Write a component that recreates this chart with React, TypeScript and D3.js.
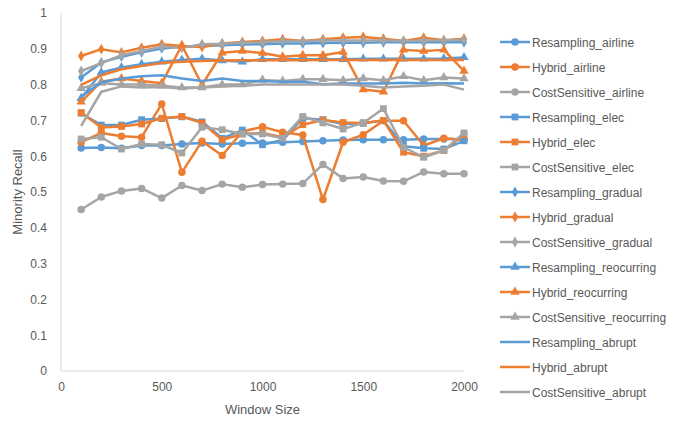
import React, { useEffect, useRef } from 'react';
import * as d3 from 'd3';

// window sizes on the x axis
const windowSizes = [100, 200, 300, 400, 500, 600, 700, 800, 900, 1000, 1100, 1200, 1300, 1400, 1500, 1600, 1700, 1800, 1900, 2000];

const resamplingAirline = [0.623, 0.624, 0.622, 0.630, 0.630, 0.634, 0.637, 0.634, 0.636, 0.637, 0.639, 0.641, 0.643, 0.645, 0.646, 0.646, 0.646, 0.648, 0.648, 0.647];
const hybridAirline = [0.639, 0.665, 0.656, 0.653, 0.746, 0.555, 0.642, 0.602, 0.669, 0.682, 0.667, 0.659, 0.479, 0.639, 0.660, 0.699, 0.699, 0.630, 0.650, 0.645];
const costAirline = [0.451, 0.486, 0.503, 0.510, 0.483, 0.518, 0.504, 0.522, 0.513, 0.521, 0.522, 0.524, 0.577, 0.538, 0.542, 0.531, 0.530, 0.556, 0.551, 0.551];
const resamplingElec = [0.720, 0.687, 0.687, 0.702, 0.705, 0.710, 0.696, 0.650, 0.673, 0.632, 0.645, 0.706, 0.702, 0.690, 0.692, 0.700, 0.628, 0.622, 0.620, 0.643];
const hybridElec = [0.722, 0.680, 0.683, 0.690, 0.706, 0.711, 0.693, 0.646, 0.662, 0.665, 0.653, 0.688, 0.701, 0.694, 0.693, 0.700, 0.611, 0.600, 0.616, 0.660];
const costElec = [0.648, 0.653, 0.620, 0.634, 0.632, 0.609, 0.681, 0.674, 0.662, 0.662, 0.650, 0.711, 0.693, 0.676, 0.693, 0.733, 0.625, 0.597, 0.616, 0.665];
const resamplingGradual = [0.820, 0.862, 0.878, 0.890, 0.901, 0.906, 0.908, 0.910, 0.912, 0.913, 0.915, 0.915, 0.916, 0.917, 0.917, 0.918, 0.918, 0.918, 0.918, 0.918];
const hybridGradual = [0.880, 0.899, 0.890, 0.903, 0.913, 0.908, 0.905, 0.915, 0.919, 0.922, 0.927, 0.922, 0.927, 0.931, 0.933, 0.928, 0.922, 0.931, 0.924, 0.928];
const costGradual = [0.838, 0.860, 0.882, 0.894, 0.906, 0.903, 0.913, 0.914, 0.917, 0.918, 0.922, 0.922, 0.923, 0.923, 0.923, 0.923, 0.922, 0.923, 0.923, 0.925];
const resamplingReocurring = [0.762, 0.834, 0.848, 0.857, 0.864, 0.869, 0.872, 0.867, 0.864, 0.871, 0.871, 0.871, 0.871, 0.871, 0.872, 0.872, 0.872, 0.872, 0.873, 0.876];
const hybridReocurring = [0.752, 0.808, 0.817, 0.810, 0.804, 0.910, 0.799, 0.889, 0.894, 0.888, 0.878, 0.882, 0.882, 0.891, 0.786, 0.780, 0.897, 0.894, 0.897, 0.838];
const costReocurring = [0.790, 0.804, 0.800, 0.800, 0.797, 0.792, 0.792, 0.800, 0.800, 0.813, 0.810, 0.815, 0.815, 0.812, 0.817, 0.812, 0.823, 0.812, 0.820, 0.817];
const resamplingAbrupt = [0.767, 0.806, 0.817, 0.823, 0.826, 0.817, 0.810, 0.817, 0.810, 0.810, 0.808, 0.808, 0.801, 0.803, 0.803, 0.803, 0.805, 0.803, 0.804, 0.803];
const hybridAbrupt = [0.799, 0.826, 0.843, 0.852, 0.860, 0.864, 0.866, 0.867, 0.868, 0.868, 0.868, 0.868, 0.869, 0.869, 0.869, 0.869, 0.869, 0.869, 0.869, 0.869];
const costAbrupt = [0.685, 0.780, 0.795, 0.792, 0.793, 0.789, 0.792, 0.795, 0.797, 0.800, 0.800, 0.800, 0.800, 0.800, 0.797, 0.792, 0.795, 0.797, 0.800, 0.786];

const seriesNames = [
  'Resampling_airline', 'Hybrid_airline', 'CostSensitive_airline',
  'Resampling_elec', 'Hybrid_elec', 'CostSensitive_elec',
  'Resampling_gradual', 'Hybrid_gradual', 'CostSensitive_gradual',
  'Resampling_reocurring', 'Hybrid_reocurring', 'CostSensitive_reocurring',
  'Resampling_abrupt', 'Hybrid_abrupt', 'CostSensitive_abrupt',
];
const seriesValues = [
  resamplingAirline, hybridAirline, costAirline,
  resamplingElec, hybridElec, costElec,
  resamplingGradual, hybridGradual, costGradual,
  resamplingReocurring, hybridReocurring, costReocurring,
  resamplingAbrupt, hybridAbrupt, costAbrupt,
];
const colors = ['#5B9BD5', '#ED7D31', '#A5A5A5'];
const markers = ['circle', 'square', 'diamond', 'triangle', 'none'];

const xTicks = [0, 500, 1000, 1500, 2000];
const yTicks = [0, 0.1, 0.2, 0.3, 0.4, 0.5, 0.6, 0.7, 0.8, 0.9, 1];

const W = 686, H = 424;
const margin = { left: 61, right: 222, top: 13, bottom: 53 };

const symbolFor = (m: string) => {
  if (m === 'circle') return d3.symbol(d3.symbolCircle, 44);
  if (m === 'square') return d3.symbol(d3.symbolSquare, 46);
  if (m === 'diamond') return d3.symbol(d3.symbolDiamond, 34);
  if (m === 'triangle') return d3.symbol(d3.symbolTriangle, 38);
  return null;
};

export default function App() {
  const ref = useRef<SVGSVGElement>(null);

  useEffect(() => {
    const svg = d3.select(ref.current);
    svg.selectAll('*').remove();

    const x = d3.scaleLinear().domain([0, 2000]).range([margin.left, W - margin.right]);
    const y = d3.scaleLinear().domain([0, 1]).range([H - margin.bottom, margin.top]);
    const font = '"Liberation Sans", Arial, sans-serif';

    // axes lines
    svg.append('line')
      .attr('x1', x(0)).attr('x2', x(0)).attr('y1', y(1)).attr('y2', y(0))
      .attr('stroke', '#D9D9D9');
    svg.append('line')
      .attr('x1', x(0)).attr('x2', x(2000)).attr('y1', y(0)).attr('y2', y(0))
      .attr('stroke', '#D9D9D9');

    const yAxis = d3.axisLeft(y).tickValues(yTicks).tickSize(0).tickPadding(14)
      .tickFormat(d => d3.format('')(+(+d).toFixed(1)));
    const gy = svg.append('g').attr('transform', `translate(${x(0)},0)`).call(yAxis);
    gy.select('.domain').remove();
    gy.selectAll('text').attr('fill', '#595959').style('font-size', '12px').style('font-family', font);

    const xAxis = d3.axisBottom(x).tickValues(xTicks).tickSize(0).tickPadding(11).tickFormat(d3.format('d'));
    const gx = svg.append('g').attr('transform', `translate(0,${y(0)})`).call(xAxis);
    gx.select('.domain').remove();
    gx.selectAll('text').attr('fill', '#595959').style('font-size', '12px').style('font-family', font);

    svg.append('text')
      .attr('transform', `translate(22,${(y(0) + y(1)) / 2}) rotate(-90)`)
      .attr('text-anchor', 'middle').attr('fill', '#595959')
      .style('font-size', '13px').style('font-family', font)
      .text('Minority Recall');
    svg.append('text')
      .attr('x', (x(0) + x(2000)) / 2).attr('y', 414)
      .attr('text-anchor', 'middle').attr('fill', '#595959')
      .style('font-size', '13px').style('font-family', font)
      .text('Window Size');

    const line = d3.line<number>()
      .x((_, i) => x(windowSizes[i]))
      .y(d => y(d));

    seriesValues.forEach((vals, si) => {
      const color = colors[si % 3];
      const sym = symbolFor(markers[Math.floor(si / 3)]);
      const g = svg.append('g');
      g.append('path').datum(vals)
        .attr('d', line).attr('fill', 'none')
        .attr('stroke', color).attr('stroke-width', 2.5)
        .attr('stroke-linejoin', 'round');
      if (sym) {
        g.selectAll('path.m').data(vals).join('path')
          .attr('class', 'm')
          .attr('d', sym)
          .attr('transform', (d, i) => `translate(${x(windowSizes[i])},${y(d)})`)
          .attr('fill', color);
      }
    });

    // legend
    const legend = svg.append('g');
    seriesNames.forEach((name, si) => {
      const color = colors[si % 3];
      const sym = symbolFor(markers[Math.floor(si / 3)]);
      const ly = 42 + si * 25;
      const row = legend.append('g').attr('transform', `translate(500,${ly})`);
      row.append('line').attr('x1', 0).attr('x2', 30).attr('y1', 0).attr('y2', 0)
        .attr('stroke', color).attr('stroke-width', 2.5);
      if (sym) row.append('path').attr('d', sym).attr('transform', 'translate(15,0)').attr('fill', color);
      row.append('text').attr('x', 32).attr('y', 4.5)
        .attr('fill', '#595959').style('font-size', '12px').style('font-family', font)
        .text(name);
    });
  }, []);

  return (
    <svg ref={ref} width={W} height={H} style={{ position: 'absolute', left: 0, top: 0, background: '#fff' }} />
  );
}
